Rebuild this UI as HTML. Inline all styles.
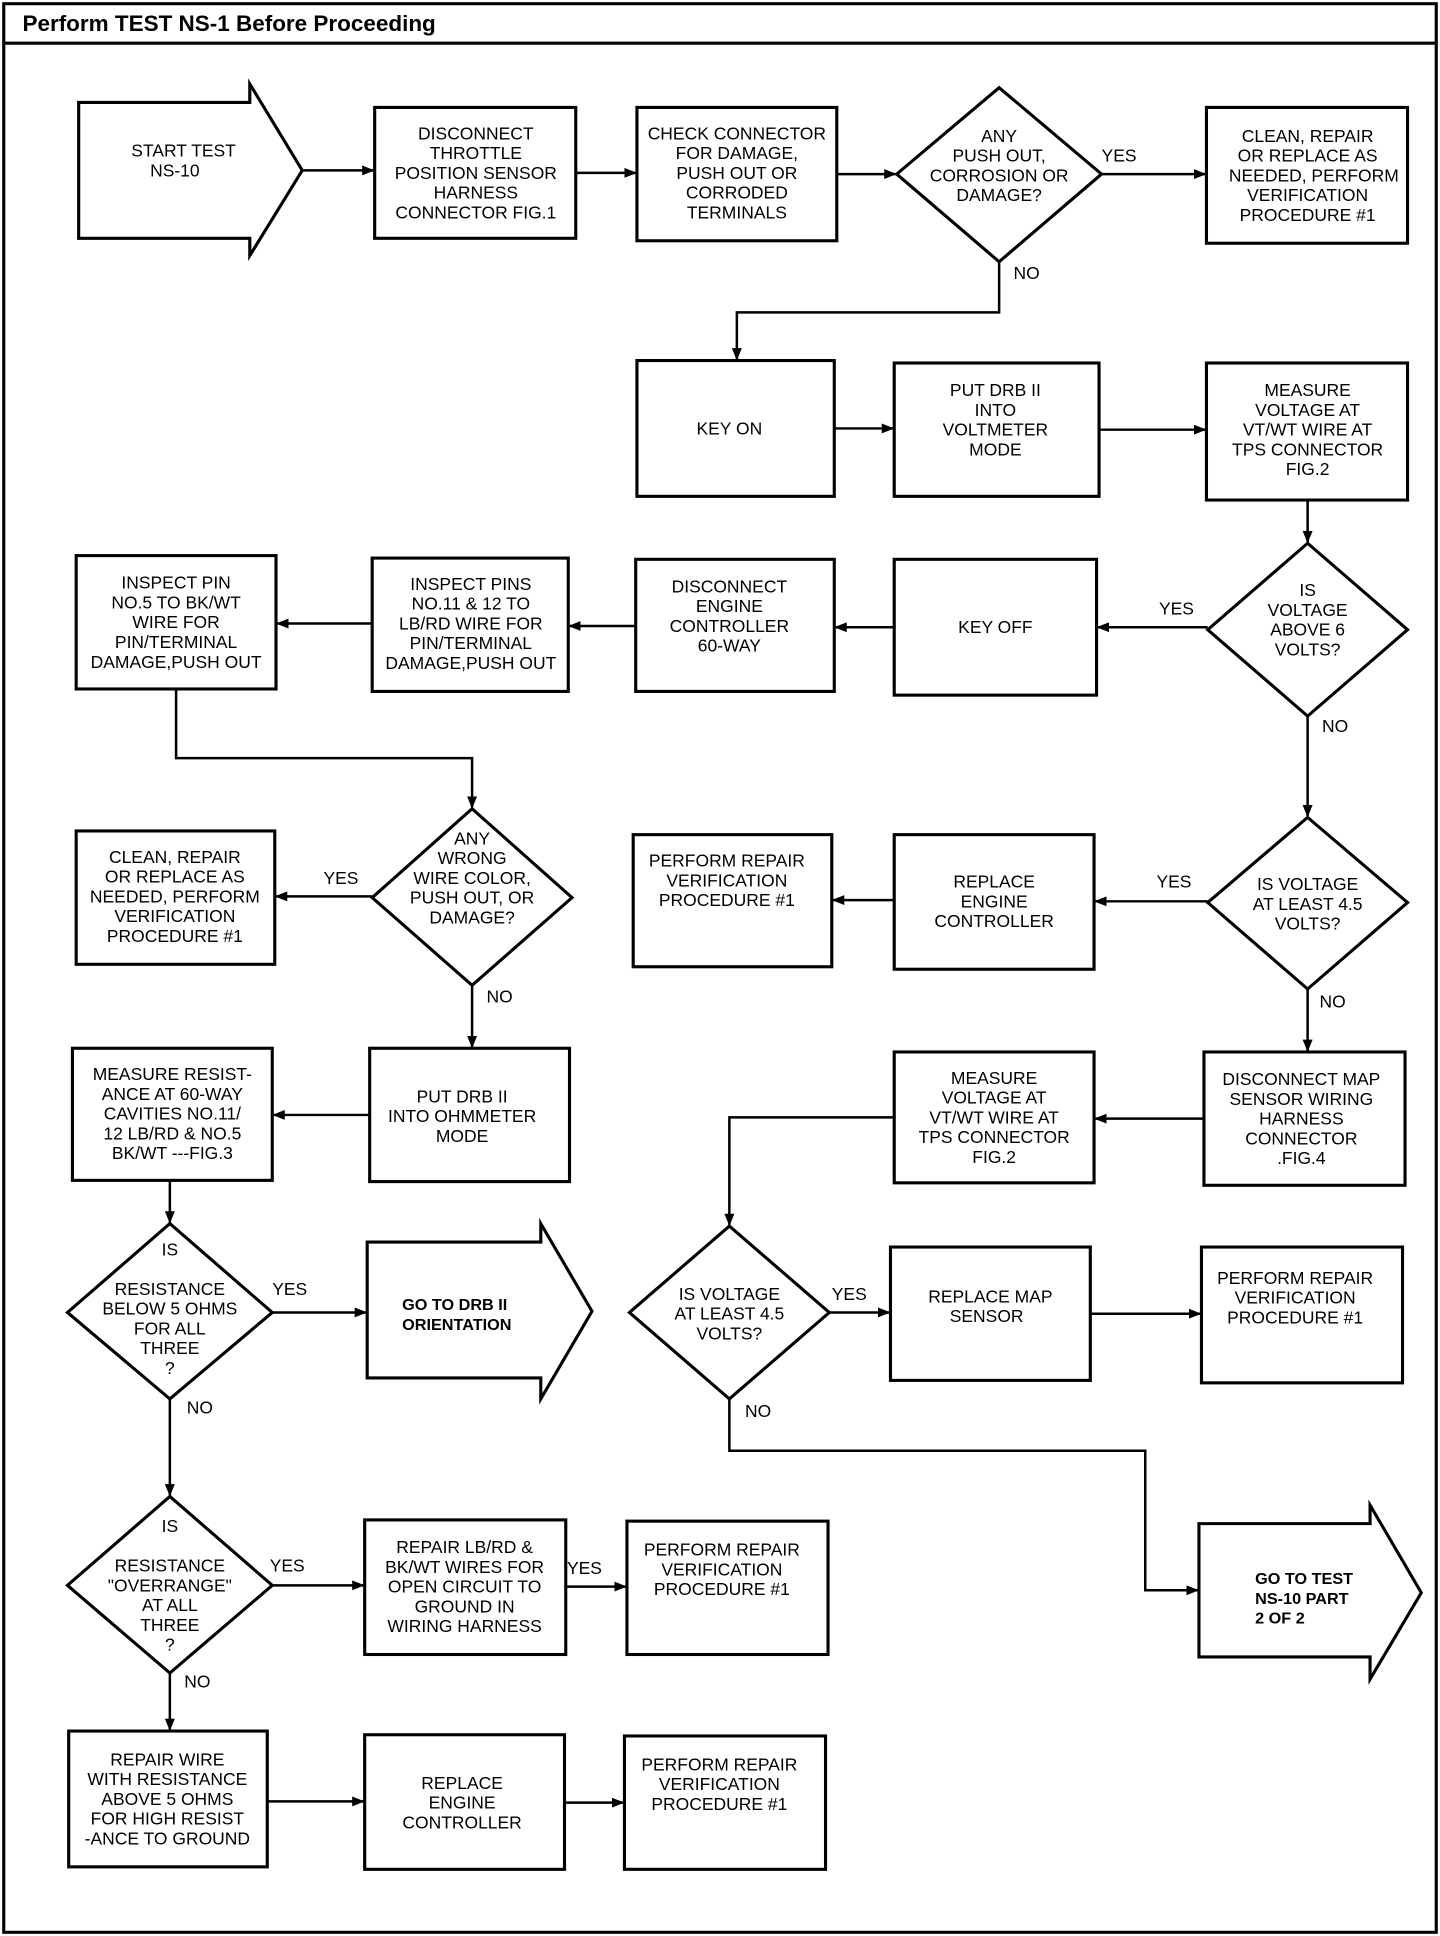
<!DOCTYPE html>
<html><head><meta charset="utf-8"><style>
html,body{margin:0;padding:0;background:#fff}
svg{display:block}
text{font-family:"Liberation Sans",sans-serif;font-size:14px;fill:#000;dominant-baseline:central}
.c{text-anchor:middle}
.b{font-weight:bold}
</style></head><body>
<svg width="1440" height="1936" viewBox="0 0 1153 1568" preserveAspectRatio="none" xmlns="http://www.w3.org/2000/svg">
<defs><marker id="a" markerWidth="10" markerHeight="8" refX="9" refY="4" orient="auto" markerUnits="userSpaceOnUse"><path d="M0,0 L10,4 L0,8 z" fill="#000"/></marker></defs>
<g fill="none" stroke="#000" stroke-width="2.5">
<rect x="3" y="3" width="1147" height="1562"/>
<line x1="3" y1="35" x2="1150" y2="35"/>
<!-- shapes -->
<path d="M63,83 H200 V68 L242,138 L200,207 V193 H63 Z"/>
<rect x="300" y="87" width="161" height="106"/>
<rect x="510" y="87" width="160" height="108"/>
<path d="M800,71 L882,141 L800,212 L718,141 Z"/>
<rect x="966" y="87" width="161" height="110"/>
<rect x="510" y="292" width="158" height="110"/>
<rect x="716" y="294" width="164" height="108"/>
<rect x="966" y="294" width="161" height="111"/>
<path d="M1047,440 L1127,510 L1047,580 L967,510 Z"/>
<rect x="716" y="453" width="162" height="110"/>
<rect x="509" y="453" width="159" height="107"/>
<rect x="298" y="452" width="157" height="108"/>
<rect x="61" y="450" width="160" height="108"/>
<path d="M378,655 L458,727 L378,798 L298,727 Z"/>
<rect x="61" y="673" width="159" height="108"/>
<path d="M1047,662 L1127,731 L1047,801 L967,731 Z"/>
<rect x="716" y="676" width="160" height="109"/>
<rect x="507" y="676" width="159" height="107"/>
<rect x="964" y="852" width="161" height="108"/>
<rect x="716" y="852" width="160" height="106"/>
<path d="M584,993 L664,1063 L584,1133 L504,1063 Z"/>
<rect x="713" y="1010" width="160" height="108"/>
<rect x="962" y="1010" width="161" height="110"/>
<path d="M960,1234 H1097 V1219 L1138,1290 L1097,1360 V1342 H960 Z"/>
<rect x="296" y="849" width="160" height="108"/>
<rect x="58" y="849" width="160" height="107"/>
<path d="M136,991 L218,1063 L136,1133 L54,1063 Z"/>
<path d="M294,1006 H433 V991 L474,1062 L433,1133 V1116 H294 Z"/>
<path d="M136,1212 L218,1284 L136,1355 L54,1284 Z"/>
<rect x="292" y="1231" width="161" height="109"/>
<rect x="502" y="1232" width="161" height="108"/>
<rect x="55" y="1402" width="159" height="110"/>
<rect x="292" y="1405" width="160" height="109"/>
<rect x="500" y="1406" width="161" height="108"/>
</g>
<g fill="none" stroke="#000" stroke-width="2" marker-end="url(#a)">
<path d="M242,138 H299"/>
<path d="M461,140 H509"/>
<path d="M670,141 H717"/>
<path d="M882,141 H965"/>
<path d="M800,212 V253 H590 V291"/>
<path d="M668,347 H715"/>
<path d="M880,348 H965"/>
<path d="M1047,405 V439"/>
<path d="M967,508 H879"/>
<path d="M716,508 H669"/>
<path d="M509,507 H456"/>
<path d="M298,505 H222"/>
<path d="M141,558 V614 H378 V654"/>
<path d="M298,726 H221"/>
<path d="M378,798 V848"/>
<path d="M1047,580 V661"/>
<path d="M967,730 H877"/>
<path d="M716,729 H667"/>
<path d="M1047,801 V851"/>
<path d="M964,906 H877"/>
<path d="M716,905 H584 V992"/>
<path d="M664,1063 H712"/>
<path d="M873,1064 H961"/>
<path d="M584,1133 V1175 H917 V1288 H959"/>
<path d="M296,903 H219"/>
<path d="M136,956 V990"/>
<path d="M218,1063 H293"/>
<path d="M136,1133 V1211"/>
<path d="M218,1284 H291"/>
<path d="M453,1285 H501"/>
<path d="M136,1355 V1401"/>
<path d="M214,1459 H291"/>
<path d="M452,1460 H499"/>
</g>
<text x="18" y="19" class="b" style="font-size:18px">Perform TEST NS-1 Before Proceeding</text>
<g class="c">
<text x="147" y="122" class="c">START TEST</text><text x="140" y="138" class="c">NS-10</text>
<text x="381" y="108" class="c">DISCONNECT</text><text x="381" y="124" class="c">THROTTLE</text><text x="381" y="140" class="c">POSITION SENSOR</text><text x="381" y="156" class="c">HARNESS</text><text x="381" y="172" class="c">CONNECTOR FIG.1</text>
<text x="590" y="108" class="c">CHECK CONNECTOR</text><text x="590" y="124" class="c">FOR DAMAGE,</text><text x="590" y="140" class="c">PUSH OUT OR</text><text x="590" y="156" class="c">CORRODED</text><text x="590" y="172" class="c">TERMINALS</text>
<text x="800" y="110" class="c">ANY</text><text x="800" y="126" class="c">PUSH OUT,</text><text x="800" y="142" class="c">CORROSION OR</text><text x="800" y="158" class="c">DAMAGE?</text>
<text x="896" y="126" class="c">YES</text><text x="822" y="221" class="c">NO</text>
<text x="1047" y="110" class="c">CLEAN, REPAIR</text><text x="1047" y="126" class="c">OR REPLACE AS</text><text x="1052" y="142" class="c">NEEDED, PERFORM</text><text x="1047" y="158" class="c">VERIFICATION</text><text x="1047" y="174" class="c">PROCEDURE #1</text>
<text x="584" y="347" class="c">KEY ON</text>
<text x="797" y="316" class="c">PUT DRB II</text><text x="797" y="332" class="c">INTO</text><text x="797" y="348" class="c">VOLTMETER</text><text x="797" y="364" class="c">MODE</text>
<text x="1047" y="316" class="c">MEASURE</text><text x="1047" y="332" class="c">VOLTAGE AT</text><text x="1047" y="348" class="c">VT/WT WIRE AT</text><text x="1047" y="364" class="c">TPS CONNECTOR</text><text x="1047" y="380" class="c">FIG.2</text>
<text x="1047" y="478" class="c">IS</text><text x="1047" y="494" class="c">VOLTAGE</text><text x="1047" y="510" class="c">ABOVE 6</text><text x="1047" y="526" class="c">VOLTS?</text>
<text x="942" y="493" class="c">YES</text><text x="1069" y="588" class="c">NO</text>
<text x="797" y="508" class="c">KEY OFF</text>
<text x="584" y="475" class="c">DISCONNECT</text><text x="584" y="491" class="c">ENGINE</text><text x="584" y="507" class="c">CONTROLLER</text><text x="584" y="523" class="c">60-WAY</text>
<text x="377" y="473" class="c">INSPECT PINS</text><text x="377" y="489" class="c">NO.11 &amp; 12 TO</text><text x="377" y="505" class="c">LB/RD WIRE FOR</text><text x="377" y="521" class="c">PIN/TERMINAL</text><text x="377" y="537" class="c">DAMAGE,PUSH OUT</text>
<text x="141" y="472" class="c">INSPECT PIN</text><text x="141" y="488" class="c">NO.5 TO BK/WT</text><text x="141" y="504" class="c">WIRE FOR</text><text x="141" y="520" class="c">PIN/TERMINAL</text><text x="141" y="536" class="c">DAMAGE,PUSH OUT</text>
<text x="378" y="679" class="c">ANY</text><text x="378" y="695" class="c">WRONG</text><text x="378" y="711" class="c">WIRE COLOR,</text><text x="378" y="727" class="c">PUSH OUT, OR</text><text x="378" y="743" class="c">DAMAGE?</text>
<text x="273" y="711" class="c">YES</text><text x="400" y="807" class="c">NO</text>
<text x="140" y="694" class="c">CLEAN, REPAIR</text><text x="140" y="710" class="c">OR REPLACE AS</text><text x="140" y="726" class="c">NEEDED, PERFORM</text><text x="140" y="742" class="c">VERIFICATION</text><text x="140" y="758" class="c">PROCEDURE #1</text>
<text x="1047" y="716" class="c">IS VOLTAGE</text><text x="1047" y="732" class="c">AT LEAST 4.5</text><text x="1047" y="748" class="c">VOLTS?</text>
<text x="940" y="714" class="c">YES</text><text x="1067" y="811" class="c">NO</text>
<text x="796" y="714" class="c">REPLACE</text><text x="796" y="730" class="c">ENGINE</text><text x="796" y="746" class="c">CONTROLLER</text>
<text x="582" y="697" class="c">PERFORM REPAIR</text><text x="582" y="713" class="c">VERIFICATION</text><text x="582" y="729" class="c">PROCEDURE #1</text>
<text x="1042" y="874" class="c">DISCONNECT MAP</text><text x="1042" y="890" class="c">SENSOR WIRING</text><text x="1042" y="906" class="c">HARNESS</text><text x="1042" y="922" class="c">CONNECTOR</text><text x="1042" y="938" class="c">.FIG.4</text>
<text x="796" y="873" class="c">MEASURE</text><text x="796" y="889" class="c">VOLTAGE AT</text><text x="796" y="905" class="c">VT/WT WIRE AT</text><text x="796" y="921" class="c">TPS CONNECTOR</text><text x="796" y="937" class="c">FIG.2</text>
<text x="584" y="1048" class="c">IS VOLTAGE</text><text x="584" y="1064" class="c">AT LEAST 4.5</text><text x="584" y="1080" class="c">VOLTS?</text>
<text x="680" y="1048" class="c">YES</text><text x="607" y="1143" class="c">NO</text>
<text x="793" y="1050" class="c">REPLACE MAP</text><text x="790" y="1066" class="c">SENSOR</text>
<text x="1037" y="1035" class="c">PERFORM REPAIR</text><text x="1037" y="1051" class="c">VERIFICATION</text><text x="1037" y="1067" class="c">PROCEDURE #1</text>
<text x="370" y="888" class="c">PUT DRB II</text><text x="370" y="904" class="c">INTO OHMMETER</text><text x="370" y="920" class="c">MODE</text>
<text x="136" y="1012" class="c">IS</text><text x="136" y="1044" class="c">RESISTANCE</text><text x="136" y="1060" class="c">BELOW 5 OHMS</text><text x="136" y="1076" class="c">FOR ALL</text><text x="136" y="1092" class="c">THREE</text><text x="136" y="1108" class="c">?</text>
<text x="232" y="1044" class="c">YES</text><text x="160" y="1140" class="c">NO</text>
<text x="136" y="1236" class="c">IS</text><text x="136" y="1268" class="c">RESISTANCE</text><text x="136" y="1284" class="c">"OVERRANGE"</text><text x="136" y="1300" class="c">AT ALL</text><text x="136" y="1316" class="c">THREE</text><text x="136" y="1332" class="c">?</text>
<text x="230" y="1268" class="c">YES</text><text x="158" y="1362" class="c">NO</text>
<text x="372" y="1253" class="c">REPAIR LB/RD &amp;</text><text x="372" y="1269" class="c">BK/WT WIRES FOR</text><text x="372" y="1285" class="c">OPEN CIRCUIT TO</text><text x="372" y="1301" class="c">GROUND IN</text><text x="372" y="1317" class="c">WIRING HARNESS</text>
<text x="468" y="1270" class="c">YES</text>
<text x="578" y="1255" class="c">PERFORM REPAIR</text><text x="578" y="1271" class="c">VERIFICATION</text><text x="578" y="1287" class="c">PROCEDURE #1</text>
<text x="134" y="1425" class="c">REPAIR WIRE</text><text x="134" y="1441" class="c">WITH RESISTANCE</text><text x="134" y="1457" class="c">ABOVE 5 OHMS</text><text x="134" y="1473" class="c">FOR HIGH RESIST</text><text x="134" y="1489" class="c">-ANCE TO GROUND</text>
<text x="370" y="1444" class="c">REPLACE</text><text x="370" y="1460" class="c">ENGINE</text><text x="370" y="1476" class="c">CONTROLLER</text>
<text x="576" y="1429" class="c">PERFORM REPAIR</text><text x="576" y="1445" class="c">VERIFICATION</text><text x="576" y="1461" class="c">PROCEDURE #1</text>
</g>
<text x="138" y="870" class="c">MEASURE RESIST-</text><text x="138" y="886" class="c">ANCE AT 60-WAY</text><text x="138" y="902" class="c">CAVITIES NO.11/</text><text x="138" y="918" class="c">12 LB/RD &amp; NO.5</text><text x="138" y="934" class="c">BK/WT ---FIG.3</text>
<text x="322" y="1057" class="b" style="font-size:13px">GO TO DRB II</text><text x="322" y="1073" class="b" style="font-size:13px">ORIENTATION</text>
<text x="1005" y="1279" class="b" style="font-size:13px">GO TO TEST</text><text x="1005" y="1295" class="b" style="font-size:13px">NS-10 PART</text><text x="1005" y="1311" class="b" style="font-size:13px">2 OF 2</text>
</svg>
</body></html>
